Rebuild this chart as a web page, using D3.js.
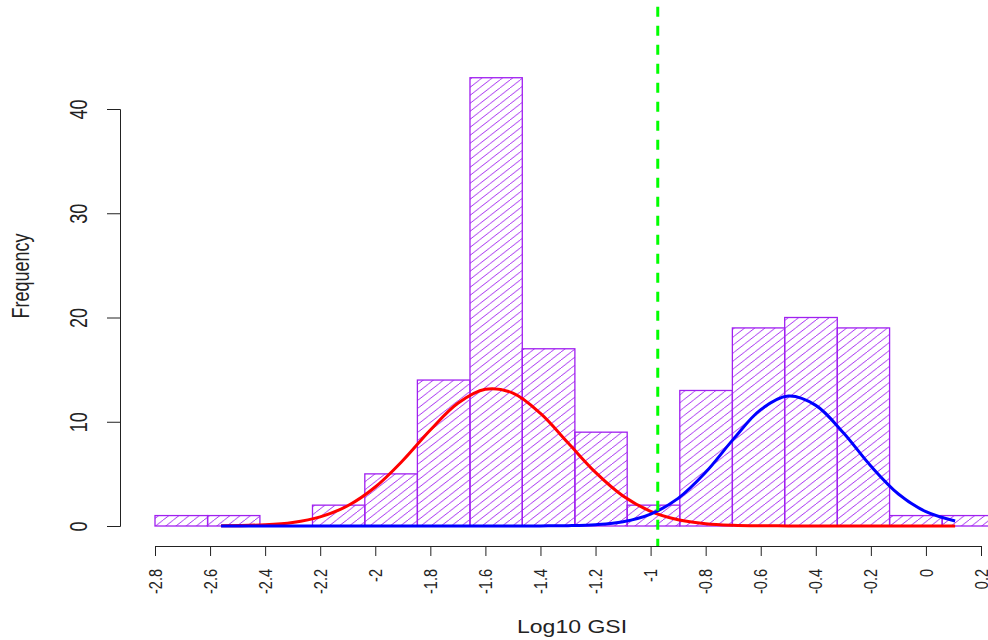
<!DOCTYPE html>
<html>
<head>
<meta charset="utf-8">
<script src="https://cdn.jsdelivr.net/npm/d3@7"></script>
<style>
  html, body { margin: 0; padding: 0; background: #fff; }
  svg { display: block; font-family: "Liberation Sans", Arial, sans-serif; }
</style>
</head>
<body>
<div id="chart"></div>
<script>
// histogram breaks and counts
const breaks = [-2.8, -2.609, -2.419, -2.228, -2.038, -1.847, -1.656, -1.466,
  -1.275, -1.085, -0.894, -0.703, -0.513, -0.322, -0.132, 0.059, 0.25];
const counts = [1, 1, 0, 2, 5, 14, 43, 17, 9, 2, 13, 19, 20, 19, 1, 1];

// fitted curves
const curveX = [-2.56, -2.4, -2.3, -2.2, -2.1, -2.0, -1.9, -1.8, -1.7, -1.6, -1.5,
  -1.4, -1.3, -1.2, -1.1, -1.0, -0.9, -0.8, -0.7, -0.6, -0.5, -0.4, -0.3, -0.2,
  -0.1, 0.0, 0.106];
const redY = [0.02, 0.12, 0.34, 0.88, 1.94, 3.74, 6.28, 9.21, 11.78, 13.12, 12.75,
  10.8, 7.98, 5.14, 2.88, 1.41, 0.6, 0.22, 0.07, 0.02, 0.01, 0, 0, 0, 0, 0, 0];
const blueY = [0, 0, 0, 0, 0, 0, 0, 0, 0, 0, 0, 0.01, 0.03, 0.12, 0.4, 1.14, 2.65,
  5.15, 8.31, 11.16, 12.46, 11.57, 8.94, 5.75, 3.07, 1.37, 0.48];

const cutoff = -0.974;

const xTicks = [-2.8, -2.6, -2.4, -2.2, -2, -1.8, -1.6, -1.4, -1.2, -1, -0.8,
  -0.6, -0.4, -0.2, 0, 0.2];
const xTickLabels = ['-2.8', '-2.6', '-2.4', '-2.2', '-2', '-1.8', '-1.6', '-1.4',
  '-1.2', '-1', '-0.8', '-0.6', '-0.4', '-0.2', '0', '0.2'];
const yTicks = [0, 10, 20, 30, 40];

const width = 988;
const height = 640;
const stretch = 1.28; // the picture is wider than tall, text follows it
const purple = '#A020F0';
const ink = '#222';

const x = d3.scaleLinear().domain([-2.8, 0.2]).range([155, 981]);
const y = d3.scaleLinear().domain([0, 40]).range([526, 109]);

const svg = d3.select('#chart').append('svg')
  .attr('width', width)
  .attr('height', height);

// diagonal hatching, like density= in hist()
const defs = svg.append('defs');
const pat = defs.append('pattern')
  .attr('id', 'hatch')
  .attr('patternUnits', 'userSpaceOnUse')
  .attr('x', 0)
  .attr('y', 0)
  .attr('width', 10.2)
  .attr('height', 8);
[[0, 8, 10.2, 0], [-10.2, 8, 0, 0], [10.2, 8, 20.4, 0]].forEach(d => {
  pat.append('line')
    .attr('x1', d[0]).attr('y1', d[1])
    .attr('x2', d[2]).attr('y2', d[3])
    .attr('stroke', purple)
    .attr('stroke-width', 0.9);
});

const bins = counts.map((c, i) => ({x0: breaks[i], x1: breaks[i + 1], n: c}));

svg.append('g').selectAll('rect')
  .data(bins.filter(d => d.n > 0))
  .join('rect')
  .attr('x', d => x(d.x0))
  .attr('y', d => y(d.n))
  .attr('width', d => x(d.x1) - x(d.x0))
  .attr('height', d => y(0) - y(d.n))
  .attr('fill', 'url(#hatch)')
  .attr('stroke', purple)
  .attr('stroke-width', 1.3);

// curves
const line = d3.line()
  .x(d => x(d[0]))
  .y(d => y(d[1]))
  .curve(d3.curveCatmullRom);

svg.append('path')
  .attr('d', line(curveX.map((v, i) => [v, redY[i]])))
  .attr('fill', 'none')
  .attr('stroke', '#FF0000')
  .attr('stroke-width', 3);

svg.append('path')
  .attr('d', line(curveX.map((v, i) => [v, blueY[i]])))
  .attr('fill', 'none')
  .attr('stroke', '#0000FF')
  .attr('stroke-width', 3);

// cutoff line
svg.append('line')
  .attr('x1', x(cutoff)).attr('x2', x(cutoff))
  .attr('y1', -12.3).attr('y2', 547)
  .attr('stroke', '#00FF00')
  .attr('stroke-width', 3)
  .attr('stroke-dasharray', '10 9');

// x axis
const gx = svg.append('g')
  .attr('transform', 'translate(0,546)')
  .call(d3.axisBottom(x)
    .tickValues(xTicks)
    .tickFormat((d, i) => xTickLabels[i])
    .tickSizeOuter(0)
    .tickSize(10));
gx.select('.domain').attr('stroke', ink);
gx.selectAll('.tick line').attr('stroke', ink);
gx.selectAll('.tick text')
  .attr('x', null)
  .attr('y', null)
  .attr('dy', null)
  .attr('transform', `translate(0,23) scale(${stretch},1) rotate(-90)`)
  .attr('text-anchor', 'end')
  .attr('dominant-baseline', 'central')
  .attr('font-size', 14.5)
  .attr('font-family', '"Liberation Sans", Arial, sans-serif')
  .attr('fill', ink);

// y axis
const gy = svg.append('g')
  .attr('transform', 'translate(120,0)')
  .call(d3.axisLeft(y)
    .tickValues(yTicks)
    .tickSizeOuter(0)
    .tickSize(13));
gy.select('.domain').attr('stroke', ink);
gy.selectAll('.tick line').attr('stroke', ink);
gy.selectAll('.tick text')
  .attr('x', null)
  .attr('dy', null)
  .attr('transform', `translate(-33,0) scale(${stretch},1) rotate(-90)`)
  .attr('text-anchor', 'middle')
  .attr('font-size', 18)
  .attr('font-family', '"Liberation Sans", Arial, sans-serif')
  .attr('fill', ink);

// axis titles
svg.append('text')
  .attr('transform', `translate(572,633) scale(${stretch},1)`)
  .attr('text-anchor', 'middle')
  .attr('font-size', 18)
  .attr('fill', ink)
  .text('Log10 GSI');

svg.append('text')
  .attr('transform', `translate(28.5,276) scale(${stretch},1) rotate(-90)`)
  .attr('text-anchor', 'middle')
  .attr('font-size', 18)
  .attr('fill', ink)
  .text('Frequency');
</script>
</body>
</html>
